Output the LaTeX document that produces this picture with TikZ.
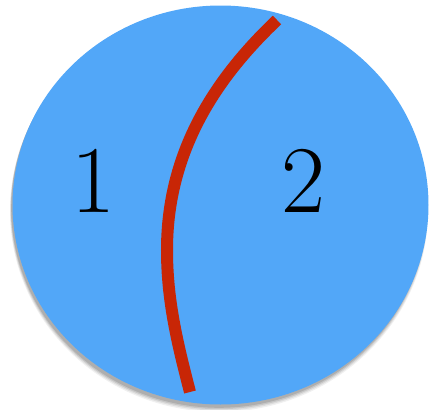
\documentclass[tikz,border=0pt]{standalone}
\usepackage{tikz}
\usetikzlibrary{calc}
\definecolor{diskblue}{RGB}{82,167,248}
\definecolor{cutred}{RGB}{200,38,6}

\begin{document}
\begin{tikzpicture}[x=1bp,y=-1bp]
  \useasboundingbox (0,0) rectangle (429,410);
  % soft shadow under the disk
  \foreach \s/\o in {5/0.06,4/0.08,3/0.1,2/0.12} {
    \fill[black,opacity=\o] (219,206+\s) ellipse [x radius=207+\s*0.4, y radius=199+\s*0.4];
  }
  % the disk
  \fill[diskblue] (220.5,205) ellipse [x radius=208, y radius=199.5];
  % dividing curve
  \draw[cutred,line width=12bp] (277,20) .. controls (217,77) and (167,150) .. (167,250)
    .. controls (167,300) and (177,342) .. (190,392);
  % region labels
  \node[font=\fontsize{96}{100}\selectfont] (one) at (93,181) {1};
  \node[font=\fontsize{96}{100}\selectfont] (two) at (303,181) {2};
\end{tikzpicture}
\end{document}
